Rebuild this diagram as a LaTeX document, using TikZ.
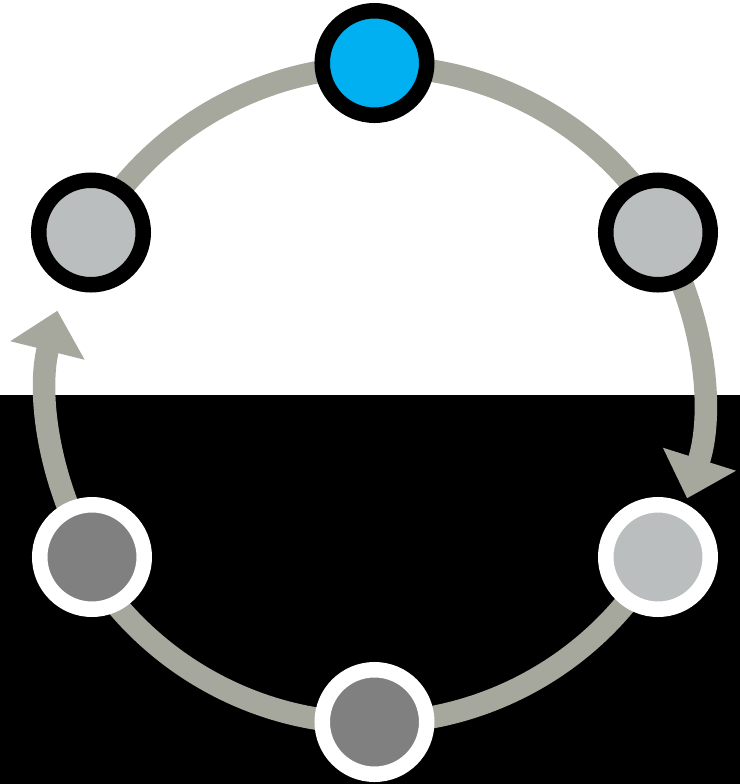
\documentclass[tikz,border=0pt]{standalone}
\usetikzlibrary{arrows.meta, backgrounds}
\definecolor{RingGray}{RGB}{166,168,158}
\definecolor{StagePale}{RGB}{187,190,191}
\definecolor{StageDark}{RGB}{128,128,128}
\definecolor{StageBlue}{RGB}{0,176,240}

\begin{document}
\begin{tikzpicture}[
    ring/.style={line width=11.25pt, RingGray},
    stage/.style={circle, line width=7.75pt, minimum size=52.25pt, inner sep=0pt}]
  \def\R{166pt}
  \useasboundingbox (-187.25pt,-195.75pt) rectangle (182.75pt,196.25pt);

  % stages round the cycle
  \foreach \n/\x/\y/\c/\b in {top/0/164.75/StageBlue/black,
      right/141.75/80/StagePale/black, left/-141.75/80/StagePale/black,
      lowright/141.75/-82.25/StagePale/white,
      bottom/0/-164.75/StageDark/white, lowleft/-141.25/-82.25/StageDark/white}
    \node[stage, fill=\c, draw=\b] (\n) at (\x pt,\y pt) {};

  \begin{scope}[on background layer]
    \fill[black] (-187.25pt,-195.75pt) rectangle (182.75pt,-1.25pt);
    \draw[ring] (left.center) arc[start angle=150, end angle=30, radius=\R];
    \draw[ring, -{Triangle[length=20.5pt, width=37pt]}]
      (right.center) arc[start angle=30, end angle=-17.5, radius=\R];
    \draw[ring] (lowright.center) arc[start angle=-30, end angle=-150, radius=\R];
    \draw[ring, -{Triangle[length=20.5pt, width=37pt]}]
      (lowleft.center) arc[start angle=210, end angle=166, radius=\R];
  \end{scope}
\end{tikzpicture}
\end{document}
